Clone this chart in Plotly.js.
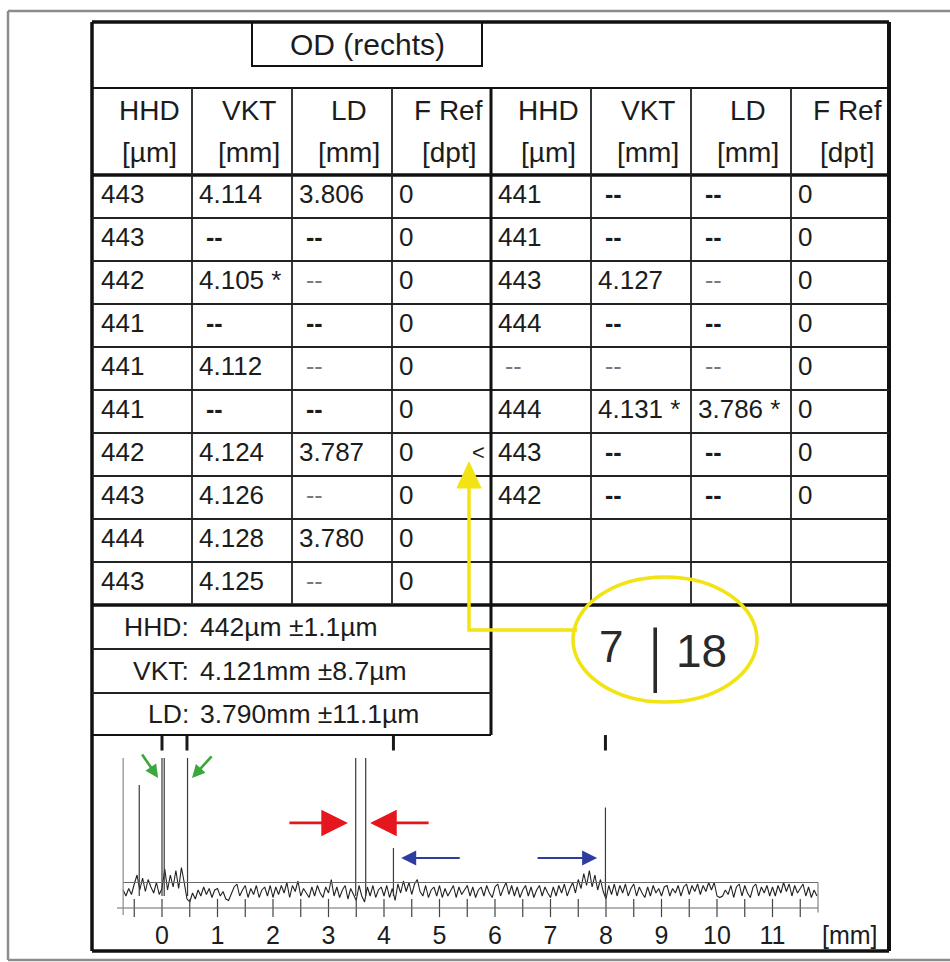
<!DOCTYPE html>
<html>
<head>
<meta charset="utf-8">
<script src="https://cdn.plot.ly/plotly-3.0.1.min.js"></script>
<style>
  html, body { margin: 0; padding: 0; background: #fff; }
  #chart { width: 950px; height: 962px; }
</style>
</head>
<body>
<div id="chart"></div>
<script>
// ---------- Biometry table (OD, right eye) ----------
const eyeTitle = 'OD (rechts)';
const headerNames = ['HHD', 'VKT', 'LD', 'F Ref', 'HHD', 'VKT', 'LD', 'F Ref'];
const headerUnits = ['[µm]', '[mm]', '[mm]', '[dpt]', '[µm]', '[mm]', '[mm]', '[dpt]'];

const leftHHD  = ['443', '443', '442', '441', '441', '441', '442', '443', '444', '443'];
const leftVKT  = ['4.114', '--', '4.105 *', '--', '4.112', '--', '4.124', '4.126', '4.128', '4.125'];
const leftLD   = ['3.806', '--', '--', '--', '--', '--', '3.787', '--', '3.780', '--'];
const leftFRef = ['0', '0', '0', '0', '0', '0', '0', '0', '0', '0'];

const rightHHD  = ['441', '441', '443', '444', '--', '444', '443', '442', '', ''];
const rightVKT  = ['--', '--', '4.127', '--', '--', '4.131 *', '--', '--', '', ''];
const rightLD   = ['--', '--', '--', '--', '--', '3.786 *', '--', '--', '', ''];
const rightFRef = ['0', '0', '0', '0', '0', '0', '0', '0', '', ''];

const selectedRow = 6;          // row flagged with '<' in the left block
const summaryLabels = ['HHD:', 'VKT:', 'LD:'];
const summaryValues = ['442µm ±1.1µm', '4.121mm ±8.7µm', '3.790mm ±11.1µm'];
const handNote = ['7', '|', '18'];

// ---------- A-scan (amplitude vs. depth in mm) ----------
const scanStart = -0.70;
const scanStep = 0.05;
const scanNoise = [
  12, 8, 13, 9, 16, 22, 12, 20, 11, 19, 14, 10, 17, 9,
  13, 26, 12, 22, 14, 25, 13, 27, 17, 6, 4, 10, 6, 12, 8, 14, 9, 13, 7, 12,
  13, 8, 11, 6, 5, 9, 14, 16, 8, 12, 15, 7, 13, 9, 15, 7, 12, 14, 8, 15,
  7, 14, 9, 15, 10, 17, 7, 15, 11, 18, 8, 13, 10, 7, 14, 8, 15, 10, 7, 14,
  10, 19, 8, 14, 7, 12, 15, 6, 13, 9, 5, 15, 8, 4, 14, 8, 15, 7, 12, 14,
  8, 15, 7, 13, 5, 16, 10, 18, 11, 17, 9, 16, 19, 11, 8, 15, 7, 12, 14, 8,
  15, 7, 13, 8, 12, 15, 7, 14, 9, 12, 15, 8, 14, 7, 12, 14, 8, 15, 10, 7,
  14, 16, 8, 13, 17, 9, 15, 8, 14, 7, 12, 15, 8, 14, 7, 12, 15, 8, 14, 10,
  7, 14, 8, 15, 10, 16, 8, 13, 17, 10, 19, 13, 23, 15, 25, 14, 22, 12, 19, 11,
  6, 15, 9, 16, 8, 15, 10, 16, 8, 13, 16, 8, 14, 10, 7, 14, 8, 15, 10, 13,
  8, 14, 15, 8, 13, 10, 15, 8, 14, 16, 9, 15, 11, 16, 9, 15, 11, 17, 12, 17,
  8, 7, 8, 12, 9, 15, 7, 14, 16, 8, 15, 10, 7, 14, 16, 8, 14, 10, 15, 8,
  14, 8, 15, 10, 17, 11, 16, 8, 15, 10, 13, 16, 8, 14, 7, 12, 8
];
const peakPos = [-0.41, 0.00, 0.04, 0.46, 3.49, 3.67, 4.17, 7.99];
const peakAmp = [82, 100, 100, 100, 100, 100, 40, 67];
const gatePos = [0.00, 0.45, 4.17, 7.99];
const gateStart = -0.70, gateEnd = 11.82, gateLevel = 17;
const axisTicks = [0, 1, 2, 3, 4, 5, 6, 7, 8, 9, 10, 11];
const axisTickText = ['0', '1', '2', '3', '4', '5', '6', '7', '8', '9', '10', '11'];
const scaleMarks = [-0.5, 0, 0.5, 1, 1.5, 2, 2.5, 3, 3.5, 4, 4.5, 5, 5.5, 6, 6.5, 7, 7.5,
                    8, 8.5, 9, 9.5, 10, 10.5, 11, 11.5];
const unitLabel = '[mm]';

// ---------- page geometry (pixels) ----------
const W = 950, H = 962;
const px = x => x / W;
const py = y => 1 - y / H;
const FONT = 'Liberation Sans, Arial, Helvetica, sans-serif';
const INK = '#1c1c1c';

const colX = [92, 192, 292, 392, 491, 591, 691, 791, 889];
const tableTop = 22, headerSep = 88, dataTop = 175, rowH = 43, dataBottom = 605;
const sumLines = [605, 649, 693, 735];
const tableBottom = 951;

const shapes = [];
const annotations = [];

function hline(y, x0, x1, w, color) {
  shapes.push({ type: 'line', xref: 'paper', yref: 'paper', x0: px(x0), x1: px(x1),
    y0: py(y), y1: py(y), line: { color: color || '#111', width: w } });
}
function vline(x, y0, y1, w, color) {
  shapes.push({ type: 'line', xref: 'paper', yref: 'paper', x0: px(x), x1: px(x),
    y0: py(y0), y1: py(y1), line: { color: color || '#111', width: w } });
}
function text(t, x, y, size, anchor, extra) {
  annotations.push(Object.assign({ text: t, xref: 'paper', yref: 'paper', x: px(x), y: py(y),
    xanchor: anchor || 'center', yanchor: 'middle', showarrow: false,
    font: { family: FONT, size: size, color: INK } }, extra || {}));
}

// scanned page frame
hline(11, 8, 950, 2.5, '#8c8c8c');
vline(8, 11, 960, 2.5, '#8c8c8c');
hline(960, 8, 950, 2.5, '#8c8c8c');

// table outline and rules
hline(tableTop, colX[0], colX[8], 3.5);
hline(tableBottom, colX[0], colX[8], 3.5);
vline(colX[0], tableTop, tableBottom, 3.5);
vline(colX[8], tableTop, tableBottom, 4);
shapes.push({ type: 'rect', xref: 'paper', yref: 'paper', x0: px(252), x1: px(482),
  y0: py(66), y1: py(tableTop), line: { color: '#111', width: 2 } });
hline(headerSep, colX[0], colX[8], 2);
hline(dataTop, colX[0], colX[8], 3.5);
for (let r = 1; r < 10; r++) hline(dataTop + r * rowH, colX[0], colX[8], 1.8, '#222');
hline(dataBottom, colX[0], colX[8], 3.5);
for (let c = 1; c < 8; c++) {
  if (c === 4) vline(colX[c], headerSep, sumLines[3], 3);
  else vline(colX[c], headerSep, dataBottom, 1.8, '#222');
}
hline(sumLines[1], colX[0], colX[4], 1.8, '#222');
hline(sumLines[2], colX[0], colX[4], 1.8, '#222');
hline(sumLines[3], colX[0], colX[4], 2);

// titles and headers
text(eyeTitle, 367, 45, 30);
headerNames.forEach((h, c) => {
  const cx = (colX[c] + colX[c + 1]) / 2 + 7;
  text(h, cx, 110, 28);
  text(headerUnits[c], cx, 152, 28);
});

// data cells
const columns = [leftHHD, leftVKT, leftLD, leftFRef, rightHHD, rightVKT, rightLD, rightFRef];
const hasNumber = s => /\d/.test(s);
columns.forEach((col, c) => {
  const block = c < 4 ? 0 : 4;
  col.forEach((val, r) => {
    if (!val) return;
    const y = dataTop + rowH * r + rowH / 2 - 2.5;
    if (val === '--') {
      const faint = !hasNumber(columns[block][r]) ||
                    (c % 4 === 2 && hasNumber(columns[block + 1][r]));
      text(faint ? '--' : '<b>--</b>', colX[c] + 12, y, 25, 'left',
           { font: { family: FONT, size: 25, color: faint ? '#7a7a7a' : INK } });
    } else {
      text(val, colX[c] + (c === 0 ? 7 : 5), y, 26, 'left');
    }
  });
});
text('<', colX[4] - 4, dataTop + rowH * selectedRow + rowH / 2 - 2.5, 22, 'right');

// summary statistics
summaryLabels.forEach((lab, i) => {
  const y = (sumLines[i] + sumLines[i + 1]) / 2;
  text(lab, 191, y, 26.5, 'right');
  text(summaryValues[i], 198, y, 26.5, 'left');
});

// yellow marking: arrow from the circled note to the flagged row
const yellow = '#f2e313';
shapes.push({ type: 'circle', xref: 'paper', yref: 'paper', x0: px(573), x1: px(757),
  y0: py(702), y1: py(577), line: { color: yellow, width: 3.5 } });
shapes.push({ type: 'path', xref: 'paper', yref: 'paper',
  path: `M${px(577)},${py(630)} L${px(469)},${py(630)} L${px(469)},${py(484)}`,
  line: { color: yellow, width: 3.5 } });
shapes.push({ type: 'path', xref: 'paper', yref: 'paper',
  path: `M${px(469)},${py(462)} L${px(457)},${py(488)} L${px(481)},${py(488)} Z`,
  fillcolor: yellow, line: { color: yellow, width: 1 } });
const HAND = '#2a2a2a';
text(handNote[0], 611, 646, 44, 'center', { font: { family: FONT, size: 44, color: HAND } });
text(handNote[1], 655, 654, 72, 'center', { font: { family: 'Liberation Serif, serif', size: 72, color: HAND } });
text(handNote[2], 701, 651, 46, 'center', { font: { family: FONT, size: 46, color: HAND } });

// ---------- A-scan traces ----------
const peakX = [], peakY = [];
peakPos.forEach((p, i) => { peakX.push(p, p, null); peakY.push(8, peakAmp[i], null); });
const gateX = [], gateY = [];
gatePos.forEach(g => { gateX.push(g, g, null); gateY.push(105, 115.3, null); });

const traces = [
  { type: 'scatter', mode: 'lines', x0: scanStart, dx: scanStep, y: scanNoise,
    line: { color: '#222', width: 1.1 }, hoverinfo: 'skip' },
  { type: 'scatter', mode: 'lines', x: peakX, y: peakY,
    line: { color: '#3a3a3a', width: 1.2 }, hoverinfo: 'skip' },
  { type: 'scatter', mode: 'lines', x: gateX, y: gateY,
    line: { color: '#1a1a1a', width: 3 }, hoverinfo: 'skip' },
  { type: 'scatter', mode: 'markers', x: scaleMarks, y: scaleMarks.map(() => 0),
    marker: { symbol: 'line-ns', size: 13, line: { color: '#444', width: 1.2 } },
    hoverinfo: 'skip' }
];

// gate box and scale line
const boxLine = { color: '#6a6a6a', width: 1 };
shapes.push({ type: 'line', xref: 'x', yref: 'y', x0: -0.81, x1: gateEnd, y0: 0, y1: 0, line: boxLine });
shapes.push({ type: 'line', xref: 'x', yref: 'y', x0: gateStart, x1: gateEnd, y0: gateLevel, y1: gateLevel, line: boxLine });
shapes.push({ type: 'line', xref: 'x', yref: 'y', x0: gateStart, x1: gateStart, y0: -4.7, y1: 100, line: { color: '#8a8a8a', width: 1.2 } });
shapes.push({ type: 'line', xref: 'x', yref: 'y', x0: gateEnd, x1: gateEnd, y0: -3, y1: gateLevel, line: boxLine });

// echo annotations (arrows)
function arrow(x, y, ax, ay, color, width, size) {
  annotations.push({ xref: 'x', yref: 'y', x: x, y: y, ax: ax, ay: ay, text: '',
    showarrow: true, arrowhead: 2, arrowcolor: color, arrowwidth: width, arrowsize: size, standoff: 0 });
}
arrow(-0.07, 86.7, -17, -25, '#3aa83a', 2.6, 1.0);
arrow(0.54, 86.7, 21, -23, '#3aa83a', 2.6, 1.0);
arrow(3.35, 56.7, -60, 0, '#e5161d', 2.8, 1.9);
arrow(3.75, 56.7, 60, 0, '#e5161d', 2.8, 1.9);
arrow(4.31, 33.3, 60, 0, '#2e3c9e', 2, 1.5);
arrow(7.84, 33.3, -61, 0, '#2e3c9e', 2, 1.5);

annotations.push({ text: unitLabel, xref: 'x', yref: 'paper', x: 12.40, y: py(935),
  xanchor: 'center', yanchor: 'middle', showarrow: false,
  font: { family: FONT, size: 25, color: INK } });

const layout = {
  width: W, height: H,
  margin: { l: 0, r: 0, t: 0, b: 0, pad: 0 },
  paper_bgcolor: '#ffffff', plot_bgcolor: 'rgba(0,0,0,0)',
  showlegend: false, hovermode: false,
  xaxis: {
    domain: [px(92), px(889)],
    range: [(92 - 162) / 55.5, (889 - 162) / 55.5],
    showgrid: false, zeroline: false, showline: false, ticks: '',
    tickmode: 'array', tickvals: axisTicks, ticktext: axisTickText,
    tickfont: { family: FONT, size: 25, color: INK },
    fixedrange: true
  },
  yaxis: {
    domain: [py(918), py(735)],
    range: [-6.667, 115.333],
    visible: false, fixedrange: true
  },
  shapes: shapes,
  annotations: annotations
};

Plotly.newPlot('chart', traces, layout, { staticPlot: true, displayModeBar: false });
</script>
</body>
</html>
